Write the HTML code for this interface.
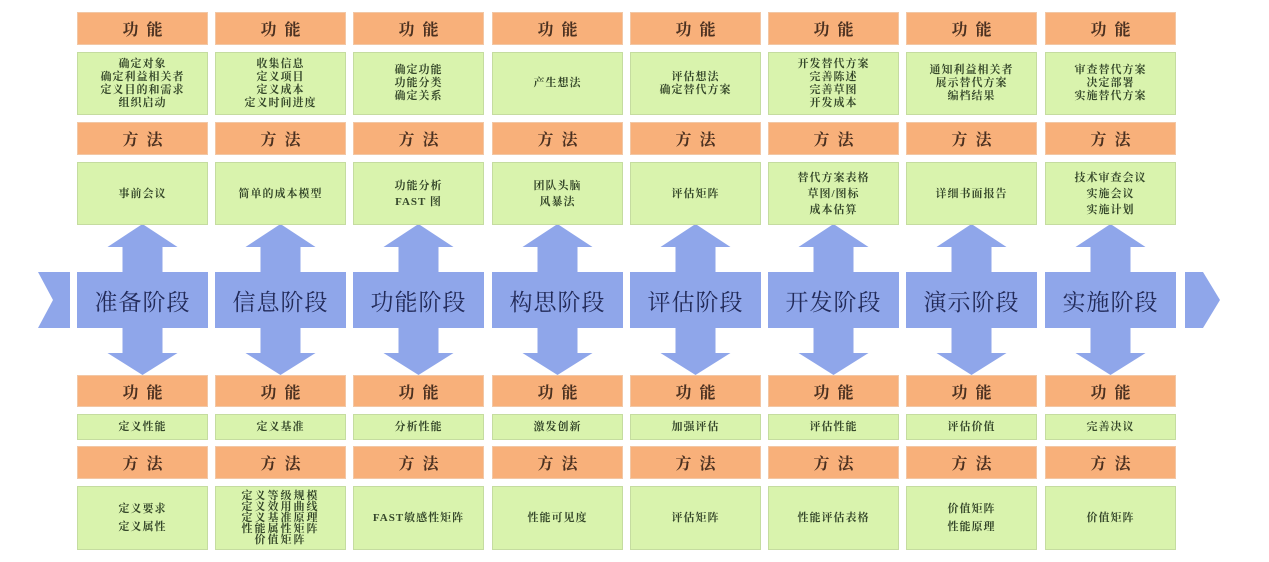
<!DOCTYPE html>
<html><head><meta charset="utf-8"><style>
body{margin:0;width:1269px;height:562px;background:#fff;position:relative;overflow:hidden;font-family:"Liberation Serif","Noto Serif CJK SC","Noto Sans CJK SC",serif}
.b{position:absolute;display:flex;align-items:center;justify-content:center;text-align:center;box-sizing:border-box}
.o{background:#f8b07a;border:1px solid #f2c7a5;color:#4a3020;font-size:16px;font-weight:bold;letter-spacing:8px;text-indent:8px}
.g{background:#d9f3ad;border:1px solid #c5dca0;color:#35472a;font-size:11px;line-height:13px;font-weight:bold;letter-spacing:1px}
.p{color:#222a58;font-size:23px;letter-spacing:1px}
svg{position:absolute;left:0;top:0}
</style></head><body>
<svg width="1269" height="562">
<polygon points="38,272 70,272 70,328 38,328 53,300" fill="#8fa6ea"/>
<polygon points="1185,272 1203,272 1220,300 1203,328 1185,328" fill="#8fa6ea"/>
<g id="arrows" fill="#8fa6ea"></g>
</svg>
<div id="c"></div>
<script>
var xs=[77,215,353,492,630,768,906,1045],w=131;
var phase=["准备阶段","信息阶段","功能阶段","构思阶段","评估阶段","开发阶段","演示阶段","实施阶段"];
var f1=["确定对象<br>确定利益相关者<br>定义目的和需求<br>组织启动","收集信息<br>定义项目<br>定义成本<br>定义时间进度","确定功能<br>功能分类<br>确定关系","产生想法","评估想法<br>确定替代方案","开发替代方案<br>完善陈述<br>完善草图<br>开发成本","通知利益相关者<br>展示替代方案<br>编档结果","审查替代方案<br>决定部署<br>实施替代方案"];
var m1=["事前会议","简单的成本模型","功能分析<br>FAST 图","团队头脑<br>风暴法","评估矩阵","替代方案表格<br>草图/图标<br>成本估算","详细书面报告","技术审查会议<br>实施会议<br>实施计划"];
var f2=["定义性能","定义基准","分析性能","激发创新","加强评估","评估性能","评估价值","完善决议"];
var m2=["定义要求<br>定义属性","定义等级规模<br>定义效用曲线<br>定义基准原理<br>性能属性矩阵<br>价值矩阵","FAST敏感性矩阵","性能可见度","评估矩阵","性能评估表格","价值矩阵<br>性能原理","价值矩阵"];
var h="",a="";
function box(cls,x,y,ww,hh,t,extra){h+='<div class="b '+cls+'" style="left:'+x+'px;top:'+y+'px;width:'+ww+'px;height:'+hh+'px;'+(extra||'')+'">'+t+'</div>';}
xs.forEach(function(x,i){
 box("o",x,12,w,33,"功能");
 box("g",x,52,w,63,f1[i]);
 box("o",x,122,w,33,"方法");
 box("g",x,162,w,63,m1[i],"line-height:16px");
 box("o",x,375,w,32,"功能");
 box("g",x,414,w,26,f2[i]);
 box("o",x,446,w,33,"方法");
 box("g",x,486,w,64,m2[i],i==1?"line-height:11px;letter-spacing:2px":"line-height:18px");
 var c=x+65.5;
 a+='<polygon points="'+c+',224 '+(c+35)+',247 '+(c+20)+',247 '+(c+20)+',272 '+(x+w)+',272 '+(x+w)+',328 '+(c+20)+',328 '+(c+20)+',353 '+(c+35)+',353 '+c+',375 '+(c-35)+',353 '+(c-20)+',353 '+(c-20)+',328 '+x+',328 '+x+',272 '+(c-20)+',272 '+(c-20)+',247 '+(c-35)+',247"/>';
 box("p",x,272,w,56,phase[i]);
});
document.getElementById("c").innerHTML=h;
document.getElementById("arrows").innerHTML=a;
</script>
</body></html>
